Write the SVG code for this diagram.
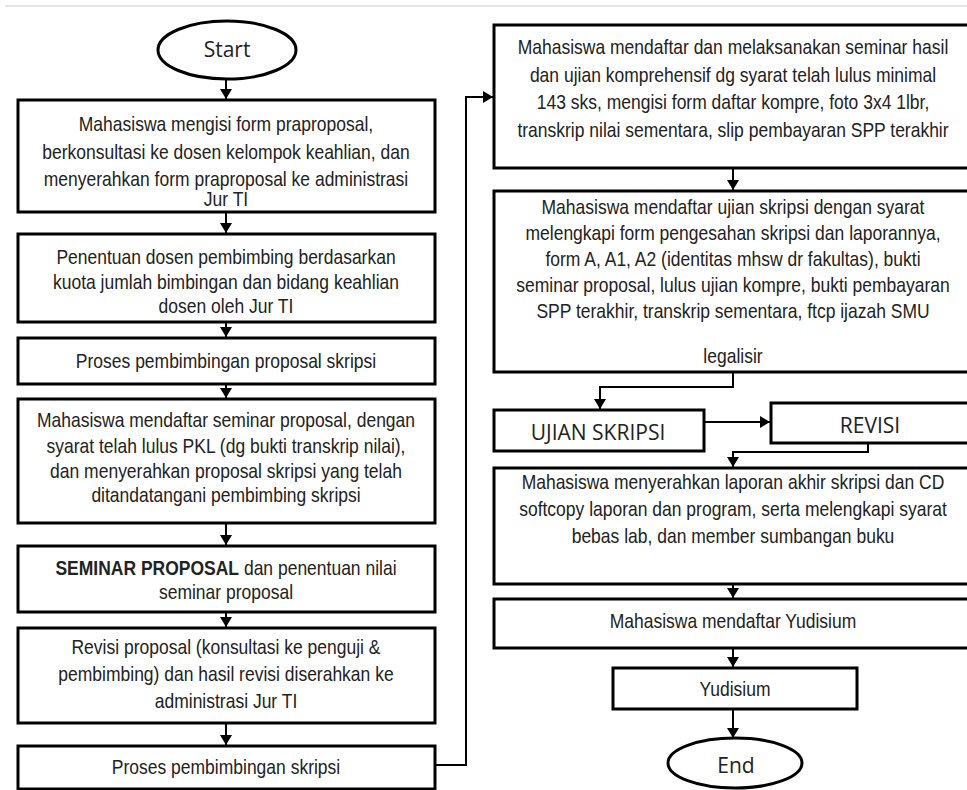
<svg xmlns="http://www.w3.org/2000/svg" width="967" height="790" viewBox="0 0 967 790">
<style>
.box{fill:#fff;stroke:#000;stroke-width:3}
.term{fill:#fff;stroke:#000;stroke-width:3}
.t{font-family:"Liberation Sans",Arial,sans-serif;font-size:17.5px;fill:#222;text-anchor:middle}
.c{font-family:"Open Sans","Noto Sans",sans-serif;font-size:21px;fill:#222;text-anchor:middle}
.con{fill:none;stroke:#000;stroke-width:2}
</style>
<defs>
<marker id="ah" markerUnits="userSpaceOnUse" markerWidth="12" markerHeight="12" refX="10" refY="6" orient="auto">
<path d="M0,0 L10,6 L0,12 Z" fill="#000"/>
</marker>
</defs>
<rect width="967" height="790" fill="#fff"/>
<line x1="5" y1="6" x2="967" y2="6" stroke="#ddd" stroke-width="1.5"/>
<g id="connectors">
<line class="con" x1="226" y1="80" x2="226" y2="99" marker-end="url(#ah)"/>
<line class="con" x1="226" y1="213" x2="226" y2="233" marker-end="url(#ah)"/>
<line class="con" x1="226" y1="323" x2="226" y2="337" marker-end="url(#ah)"/>
<line class="con" x1="226" y1="385" x2="226" y2="398" marker-end="url(#ah)"/>
<line class="con" x1="226" y1="524" x2="226" y2="545" marker-end="url(#ah)"/>
<line class="con" x1="226" y1="613" x2="226" y2="627" marker-end="url(#ah)"/>
<line class="con" x1="226" y1="724" x2="226" y2="745" marker-end="url(#ah)"/>
<polyline class="con" points="436,765 466,765 466,97 493,97" marker-end="url(#ah)"/>
<line class="con" x1="733" y1="169" x2="733" y2="190" marker-end="url(#ah)"/>
<polyline class="con" points="733,373 733,387 600,387 600,409" marker-end="url(#ah)"/>
<line class="con" x1="705" y1="422" x2="770" y2="422" marker-end="url(#ah)"/>
<polyline class="con" points="868,444 868,452 733,452 733,467" marker-end="url(#ah)"/>
<line class="con" x1="733" y1="585" x2="733" y2="598" marker-end="url(#ah)"/>
<line class="con" x1="733" y1="649" x2="733" y2="667" marker-end="url(#ah)"/>
<line class="con" x1="733" y1="710" x2="733" y2="738" marker-end="url(#ah)"/>
</g>
<g id="start">
<ellipse class="term" cx="227" cy="50" rx="69" ry="29"/>
<text class="c" x="227" y="57">Start</text>
</g>
<g id="n1">
<rect class="box" x="18" y="100" width="417" height="112"/>
<text class="t" transform="translate(226,131) scale(1,1.12)">Mahasiswa mengisi form praproposal,</text>
<text class="t" transform="translate(226,159) scale(1,1.12)">berkonsultasi ke dosen kelompok keahlian, dan</text>
<text class="t" transform="translate(226,186) scale(1,1.12)">menyerahkan form praproposal  ke administrasi</text>
<text class="t" transform="translate(226,206) scale(1,1.12)">Jur TI</text>
</g>
<g id="n2">
<rect class="box" x="18" y="234" width="417" height="88"/>
<text class="t" transform="translate(226,264) scale(1,1.12)">Penentuan dosen pembimbing berdasarkan</text>
<text class="t" transform="translate(226,289) scale(1,1.12)">kuota jumlah bimbingan dan bidang keahlian</text>
<text class="t" transform="translate(226,313) scale(1,1.12)">dosen oleh Jur TI</text>
</g>
<g id="n3">
<rect class="box" x="18" y="338" width="417" height="46"/>
<text class="t" transform="translate(226,368) scale(1,1.12)">Proses pembimbingan proposal skripsi</text>
</g>
<g id="n4">
<rect class="box" x="18" y="399" width="417" height="124"/>
<text class="t" transform="translate(226,427) scale(1,1.12)">Mahasiswa mendaftar seminar proposal, dengan</text>
<text class="t" transform="translate(226,453) scale(1,1.12)">syarat telah lulus PKL (dg bukti transkrip nilai),</text>
<text class="t" transform="translate(226,478) scale(1,1.12)">dan menyerahkan proposal skripsi yang telah</text>
<text class="t" transform="translate(226,502) scale(1,1.12)">ditandatangani pembimbing skripsi</text>
</g>
<g id="n5">
<rect class="box" x="18" y="546" width="417" height="66"/>
<text class="t" transform="translate(226,575) scale(1,1.12)"><tspan font-weight="bold">SEMINAR PROPOSAL</tspan> dan penentuan nilai</text>
<text class="t" transform="translate(226,599) scale(1,1.12)">seminar proposal</text>
</g>
<g id="n6">
<rect class="box" x="18" y="628" width="417" height="95"/>
<text class="t" transform="translate(226,654) scale(1,1.12)">Revisi proposal (konsultasi ke penguji &amp;</text>
<text class="t" transform="translate(226,681) scale(1,1.12)">pembimbing) dan hasil revisi diserahkan ke</text>
<text class="t" transform="translate(226,708) scale(1,1.12)">administrasi Jur TI</text>
</g>
<g id="n7">
<rect class="box" x="18" y="746" width="417" height="43"/>
<text class="t" transform="translate(226,774) scale(1,1.12)">Proses pembimbingan skripsi</text>
</g>
<g id="r1">
<rect class="box" x="494" y="25" width="480" height="143"/>
<text class="t" transform="translate(733,54) scale(1,1.12)">Mahasiswa mendaftar dan melaksanakan seminar hasil</text>
<text class="t" transform="translate(733,82) scale(1,1.12)">dan ujian komprehensif dg syarat telah lulus minimal</text>
<text class="t" transform="translate(733,109) scale(1,1.12)">143 sks, mengisi form daftar kompre, foto 3x4 1lbr,</text>
<text class="t" transform="translate(733,137) scale(1,1.12)">transkrip nilai sementara, slip pembayaran SPP terakhir</text>
</g>
<g id="r2">
<rect class="box" x="494" y="191" width="480" height="181"/>
<text class="t" transform="translate(733,214) scale(1,1.12)">Mahasiswa mendaftar ujian skripsi dengan syarat</text>
<text class="t" transform="translate(733,240) scale(1,1.12)">melengkapi form pengesahan skripsi dan laporannya,</text>
<text class="t" transform="translate(733,266) scale(1,1.12)">form A, A1, A2 (identitas mhsw dr fakultas), bukti</text>
<text class="t" transform="translate(733,292) scale(1,1.12)">seminar proposal, lulus ujian kompre, bukti pembayaran</text>
<text class="t" transform="translate(733,318) scale(1,1.12)">SPP terakhir, transkrip sementara, ftcp ijazah SMU</text>
<text class="t" transform="translate(733,363) scale(1,1.12)">legalisir</text>
</g>
<g id="ujian">
<rect class="box" x="494" y="410" width="210" height="41"/>
<text class="c" x="598" y="440">UJIAN SKRIPSI</text>
</g>
<g id="revisi">
<rect class="box" x="771" y="403" width="205" height="40"/>
<text class="c" x="870" y="433">REVISI</text>
</g>
<g id="r3">
<rect class="box" x="494" y="468" width="480" height="116"/>
<text class="t" transform="translate(733,489) scale(1,1.12)">Mahasiswa menyerahkan laporan akhir skripsi dan CD</text>
<text class="t" transform="translate(733,516) scale(1,1.12)">softcopy laporan dan program, serta melengkapi syarat</text>
<text class="t" transform="translate(733,543) scale(1,1.12)">bebas lab, dan member sumbangan buku</text>
</g>
<g id="r4">
<rect class="box" x="494" y="599" width="480" height="49"/>
<text class="t" transform="translate(733,628) scale(1,1.12)">Mahasiswa mendaftar Yudisium</text>
</g>
<g id="yudisium">
<rect class="box" x="613" y="668" width="244" height="41"/>
<text class="t" transform="translate(735,696) scale(1,1.12)">Yudisium</text>
</g>
<g id="end">
<ellipse class="term" cx="735" cy="763" rx="67" ry="25"/>
<text class="c" x="736" y="773">End</text>
</g>
</svg>
